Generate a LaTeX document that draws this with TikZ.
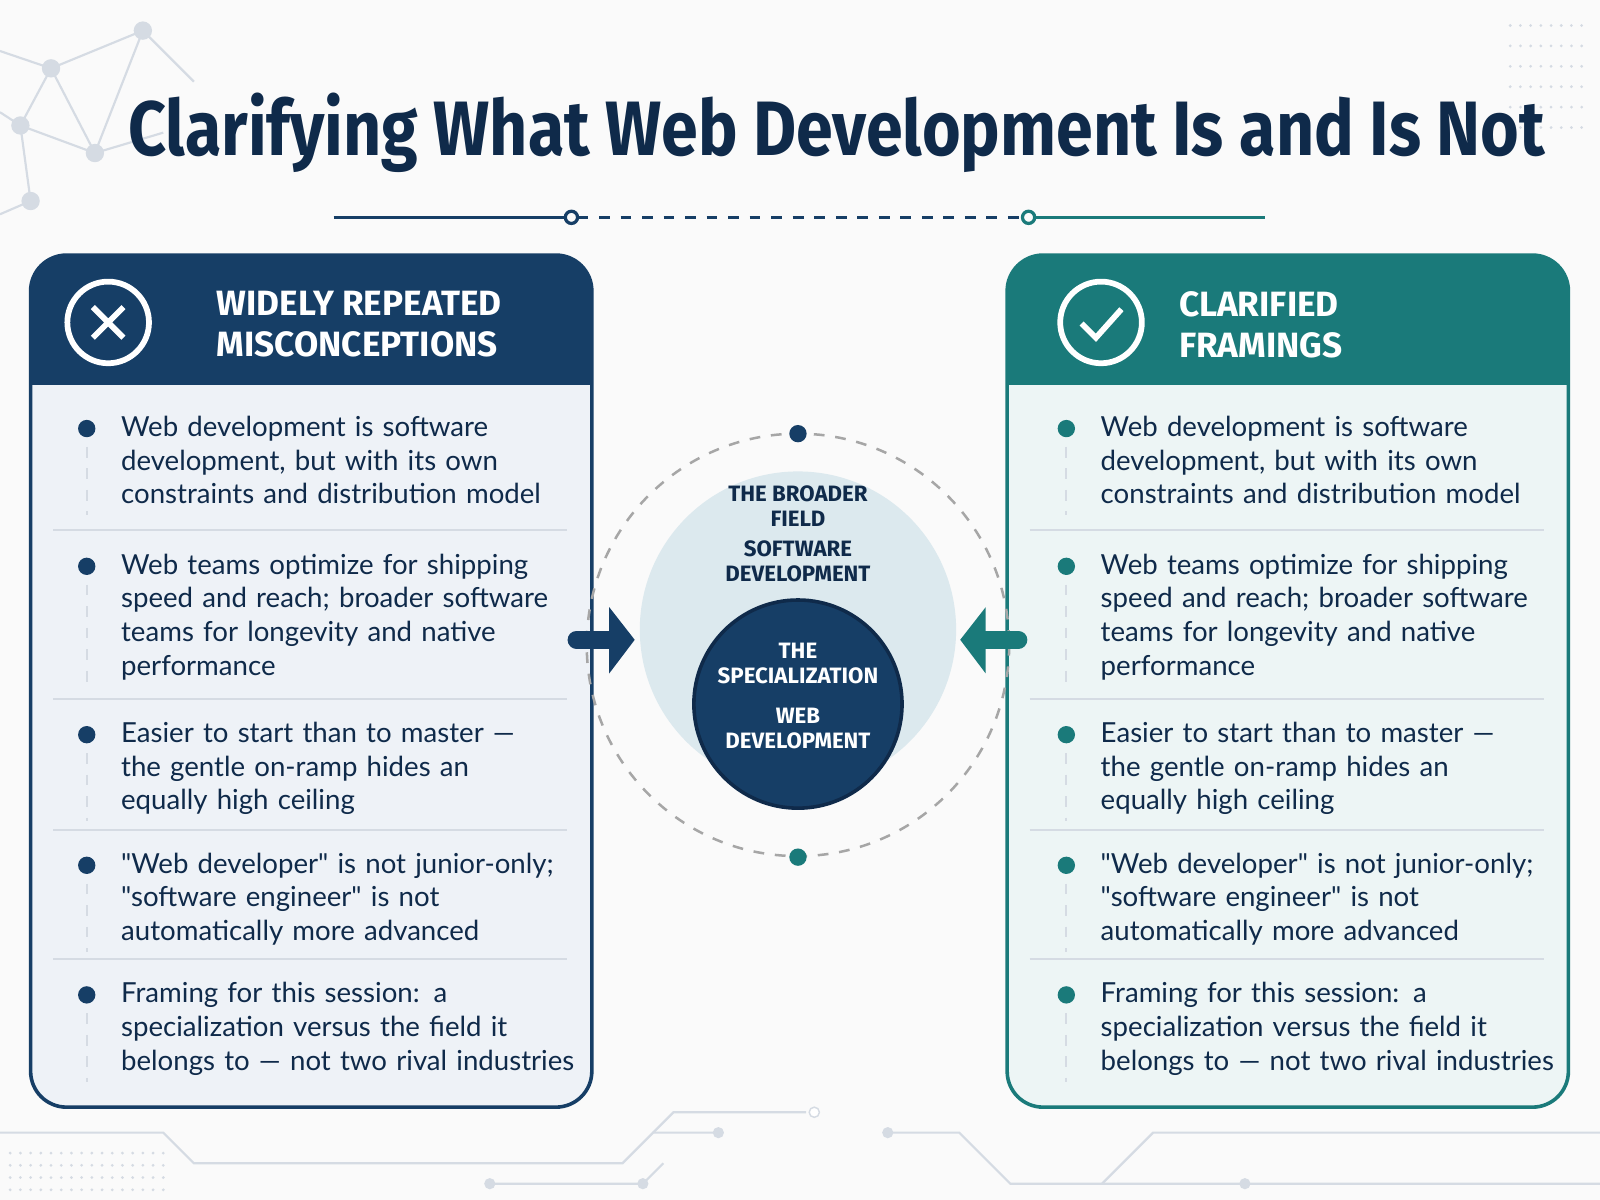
\documentclass[tikz,border=0pt]{standalone}
\usepackage{fontspec}
\setmainfont{Fira Sans}
\newfontfamily\bodyfont{Lato}
\usetikzlibrary{calc,positioning}
\definecolor{navy}{HTML}{163E66}
\definecolor{ink}{HTML}{0F2A4A}
\definecolor{teal}{HTML}{1A7A7A}
\definecolor{lnavy}{HTML}{EEF2F7}
\definecolor{lteal}{HTML}{EDF5F5}
\definecolor{sky}{HTML}{DCE9EE}
\definecolor{deco}{HTML}{D5DBE3}
\newcommand{\qq}{\symbol{34}}
\tikzset{
  panel/.style={draw=#1, line width=1pt, rounded corners=10pt},
  head/.style={text=white, font=\fontsize{9.8}{11.5}\selectfont\bfseries, align=left, anchor=west},
  item/.style={text=ink, font=\bodyfont\fontsize{7.7}{9.4}\selectfont, align=left, anchor=north west, text width=4.7cm, inner sep=0pt},
  ctext/.style={text=#1, font=\fontsize{6.2}{7}\selectfont\bfseries, align=center},
  sep/.style={draw=deco, line width=0.6pt}
}
\begin{document}
\begin{tikzpicture}[y=-1cm]
\useasboundingbox[fill=white] (0,0) rectangle (15.68,11.76);
\fill[black!2] (0,0) rectangle (15.68,11.76);
% network decoration
\foreach \a/\b in {0.5/0.67,1.4/0.3,0.2/1.23,0.93/1.5,0.3/1.97}
  \fill[deco] (\a,\b) circle (0.09);
\draw[deco,line width=0.6pt] (0,0.5) -- (0.5,0.67) -- (1.4,0.3) -- (1.9,0.8)
  (0.5,0.67) -- (0.2,1.23) -- (0.93,1.5) -- (1.4,0.3) (0.5,0.67) -- (0.93,1.5)
  (0.2,1.23) -- (0.3,1.97) -- (0,2.1) (0.93,1.5) -- (1.6,1.3) (0.2,1.23) -- (0,1.1);
\foreach \i in {0,...,7} \foreach \j in {0,...,5}
  \fill[deco] (14.8+0.1*\i,0.25+0.2*\j) circle (0.015);
\foreach \i in {0,...,15} \foreach \j in {0,...,3}
  \fill[deco] (0.1+0.1*\i,11.3+0.12*\j) circle (0.015);
% circuit decoration
\draw[deco,line width=0.6pt] (0,11.1) -- (1.6,11.1) -- (1.9,11.4) -- (6.1,11.4) -- (6.4,11.1) -- (7.0,11.1);
\draw[deco,line width=0.6pt] (4.8,11.6) -- (6.3,11.6) -- (6.5,11.4);
\draw[deco,line width=0.6pt] (6.4,11.1) -- (6.6,10.9) -- (7.9,10.9);
\draw[deco,line width=0.6pt] (8.7,11.1) -- (9.4,11.1) -- (9.9,11.6) -- (15.68,11.6);
\draw[deco,line width=0.6pt] (10.8,11.6) -- (11.3,11.1) -- (15.68,11.1);
\foreach \p in {(7.04,11.1),(4.8,11.6),(6.3,11.6),(8.7,11.1),(12.2,11.6)} \fill[deco] \p circle (0.055);
\draw[deco,fill=white] (7.98,10.9) circle (0.05);
% title
\node[text=ink, font=\fontsize{21.5}{24}\selectfont\bfseries] (title) at (8.2,1.3)
  {\scalebox{0.86}[1]{Clarifying What Web Development Is and Is Not}};
\coordinate (dl) at (5.6,2.13);
\coordinate (dr) at (10.08,2.13);
\draw[navy,line width=1pt] (3.27,2.13) -- ($(dl)+(-0.06,0)$);
\draw[navy,dashed,line width=0.8pt] ($(dl)+(0.06,0)$) -- ($(dr)+(-0.06,0)$);
\draw[teal,line width=1pt] ($(dr)+(0.06,0)$) -- (12.4,2.13);
\draw[navy,line width=0.9pt] (dl) circle (0.06);
\draw[teal,line width=0.9pt] (dr) circle (0.06);
% panels
\foreach \x/\c/\l in {0.3/navy/lnavy,9.87/teal/lteal}{
  \fill[\l,rounded corners=10pt] (\x,2.5) rectangle ++(5.5,8.35);
  \fill[\c,rounded corners=10pt] (\x,2.5) rectangle ++(5.5,1.27);
  \fill[\c] (\x,3.4) rectangle ++(5.5,0.37);
  \draw[panel=\c] (\x,2.5) rectangle ++(5.5,8.35);
  \foreach \s in {5.19,6.85,8.13,9.4}
    \draw[sep] (\x+0.22,\s) -- (\x+5.26,\s);
}
% headers
\node[draw=white, line width=1.6pt, circle, minimum size=0.8cm] (xicon) at (1.06,3.16) {};
\draw[white,line width=1.6pt] ($(xicon)+(-0.15,-0.15)$) -- ($(xicon)+(0.15,0.15)$)
  ($(xicon)+(-0.15,0.15)$) -- ($(xicon)+(0.15,-0.15)$);
\node[head] (lhead) at (2.0,3.18) {WIDELY REPEATED\\MISCONCEPTIONS};
\node[draw=white, line width=1.6pt, circle, minimum size=0.8cm] (vicon) at (10.79,3.16) {};
\draw[white,line width=1.6pt] ($(vicon)+(-0.19,0.01)$) -- ($(vicon)+(-0.05,0.15)$) -- ($(vicon)+(0.2,-0.13)$);
\node[head] (rhead) at (11.43,3.18) {CLARIFIED\\FRAMINGS};
% items
\foreach \x/\c [count=\k] in {0.85/navy,10.45/teal}{
  \foreach \y/\h/\t in {
    4.2/0.85/{Web development is software\\development, but with its own\\constraints and distribution model},
    5.55/1.15/{Web teams optimize for shipping\\speed and reach; broader software\\teams for longevity and native\\performance},
    7.2/0.85/{Easier to start than to master —\\the gentle on-ramp hides an\\equally high ceiling},
    8.48/0.85/{\qq Web developer\qq{} is not junior-only;\\\qq software engineer\qq{} is not\\automatically more advanced},
    9.75/0.85/{Framing for this session: a\\specialization versus the field it\\belongs to — not two rival industries}}{
    \fill[\c] (\x,\y) circle (0.085);
    \draw[deco,dashed,line width=0.6pt] (\x,\y+0.18) -- (\x,\y+\h);
    \node[item] at (\x+0.33,\y-0.13) {\t};
  }
}
% centre
\coordinate (cc) at (7.82,6.32);
\draw[gray!70,dashed,line width=0.7pt] (cc) circle (2.07);
\fill[sky] (7.82,6.17) circle (1.55);
\node[circle, fill=navy, draw=ink, line width=1pt, minimum size=2.04cm] (spec) at (7.82,6.9) {};
\fill[navy] (7.82,4.25) circle (0.085);
\fill[teal] (7.82,8.4) circle (0.085);
\node[ctext=ink] (field) at (7.82,4.96) {THE BROADER\\FIELD};
\node[ctext=ink] (soft) at (7.82,5.5) {SOFTWARE\\DEVELOPMENT};
\node[ctext=white] (the) at (7.82,6.5) {THE\\SPECIALIZATION};
\node[ctext=white] (web) at (7.82,7.14) {WEB\\DEVELOPMENT};
% arrows
\draw[navy,line width=5pt,line cap=round] (5.65,6.27) -- (6.0,6.27);
\fill[navy] (5.97,5.95) -- (6.22,6.27) -- (5.97,6.6) -- cycle;
\draw[teal,line width=5pt,line cap=round] (9.98,6.27) -- (9.63,6.27);
\fill[teal] (9.66,5.95) -- (9.41,6.27) -- (9.66,6.6) -- cycle;
\end{tikzpicture}
\end{document}
